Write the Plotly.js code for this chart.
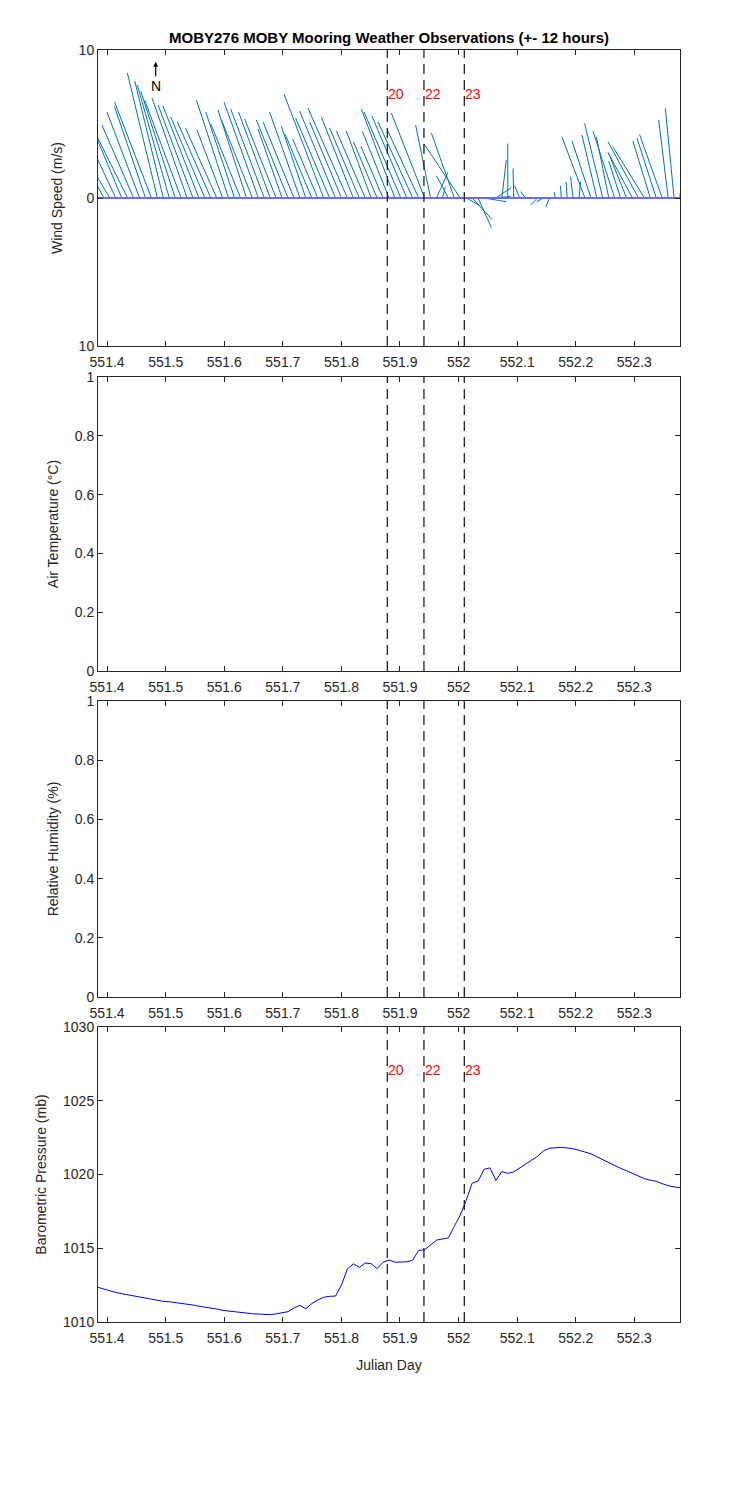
<!DOCTYPE html>
<html><head><meta charset="utf-8">
<script src="https://cdn.plot.ly/plotly-3.0.1.min.js"></script>
<style>body{margin:0;background:#fff}#chart{width:750px;height:1500px}</style>
</head><body><div id="chart"></div>
<script>
// Sample times (Julian day)
const times = [551.3845,551.3946,551.4048,551.4149,551.4251,551.4352,551.4453,551.4555,551.4656,551.4757,
551.4859,551.4960,551.5062,551.5163,551.5264,551.5366,551.5467,551.5568,551.5670,551.5771,
551.5873,551.5974,551.6075,551.6177,551.6278,551.6380,551.6481,551.6582,551.6684,551.6785,
551.6886,551.6988,551.7089,551.7191,551.7292,551.7393,551.7495,551.7596,551.7697,551.7799,
551.7900,551.8002,551.8103,551.8204,551.8306,551.8407,551.8508,551.8610,551.8711,551.8813,
551.8914,551.9015,551.9117,551.9218,551.9320,551.9421,551.9522,551.9624,551.9725,551.9826,
551.9928,552.0029,552.0131,552.0232,552.0333,552.0435,552.0536,552.0637,552.0739,552.0840,
552.0942,552.1043,552.1144,552.1246,552.1347,552.1449,552.1550,552.1651,552.1753,552.1854,
552.1955,552.2057,552.2158,552.2260,552.2361,552.2462,552.2564,552.2665,552.2766,552.2868,
552.2969,552.3071,552.3172,552.3273,552.3375,552.3476,552.3578,552.3679,552.3780];

// Wind components (m/s): east (u) and north (v)
const windU = [-2.5,-1.9,-2.4,-2.35,-2.3,-2.4,-2.14,-2.2,-2.1,-2.49,
-2.03,-1.93,-2.16,-2.33,-2.47,-2.37,-2.36,-2.43,-2.31,-2.26,
-2.12,-1.74,-2.18,-1.95,-2.0,-1.93,-2.1,-2.32,-2.27,-2.14,
-2.13,-1.63,-2.14,-2.09,-2.05,-1.66,-1.8,-1.7,-2.68,-2.30,
-2.43,-2.15,-2.67,-2.16,-2.01,-1.95,-1.68,-1.6,-1.5,-1.8,
-2.27,-2.49,-2.36,-2.35,-2.15,-2.25,-1.01,0.77,0.2,-0.8,
-1.55,-2.45,0.9,1.35,0.9,1.5,1.4,1.04,0.3,0.0,
-0.05,-0.34,-0.34,-0.1,-0.45,-0.45,-0.23,-0.07,-0.05,-0.07,
-0.17,0.1,-1.56,-1.28,-1.01,-1.23,-0.84,-1.47,-0.8,-1.2,
-1.66,-2.06,-2.13,-1.18,-1.31,-1.53,-0.64,-0.59,0.0];
const windV = [4.0,3.5,4.0,5.0,5.5,4.8,4.93,5.8,6.2,6.49,
8.45,7.91,7.64,7.23,6.62,6.76,6.28,6.22,5.47,5.14,
4.73,4.59,6.62,5.81,5.0,5.95,5.3,6.49,6.01,5.81,
5.34,4.66,5.27,5.14,5.81,4.86,4.3,4.0,7.03,5.41,
5.88,5.14,6.08,5.47,4.73,4.53,4.53,3.8,3.5,4.5,
6.01,5.81,5.54,5.14,4.66,5.74,4.93,1.74,0.76,1.5,
4.39,3.65,-0.5,-1.45,-2.0,-0.25,0.1,0.7,2.57,3.69,
2.0,0.83,0.43,0.05,-0.47,-0.25,-0.6,0.4,0.83,1.1,
1.44,1.1,4.14,3.85,4.26,5.05,4.14,4.53,2.5,3.0,
3.09,3.80,3.47,3.85,4.07,4.30,5.27,6.06,0.3];

// Barometric pressure (mb)
const pressure = [1012.35,1012.22,1012.10,1012.00,1011.92,1011.85,1011.77,1011.66,1011.60,1011.55,
1011.47,1011.40,1011.37,1011.32,1011.28,1011.22,1011.15,1011.07,1011.01,1010.97,
1010.88,1010.79,1010.74,1010.72,1010.66,1010.58,1010.56,1010.54,1010.52,1010.50,
1010.55,1010.60,1010.70,1010.95,1011.13,1010.90,1011.25,1011.48,1011.68,1011.74,
1011.76,1012.51,1013.60,1013.95,1013.70,1014.00,1013.95,1013.62,1014.05,1014.20,
1014.05,1014.07,1014.08,1014.20,1014.85,1014.90,1015.20,1015.55,1015.63,1015.70,
1016.50,1017.25,1018.25,1019.42,1019.55,1020.35,1020.45,1019.60,1020.20,1020.08,
1020.18,1020.46,1020.70,1020.97,1021.23,1021.60,1021.78,1021.81,1021.84,1021.80,
1021.75,1021.64,1021.53,1021.40,1021.20,1021.00,1020.78,1020.58,1020.42,1020.25,
1020.07,1019.90,1019.72,1019.61,1019.54,1019.38,1019.24,1019.16,1019.10];

// Event markers
const eventTimes = [551.8784, 551.9409, 552.0098];
const eventLabels = ['20', '22', '23'];

// Tick labels
const xTickVals = [551.4,551.5,551.6,551.7,551.8,551.9,552.0,552.1,552.2,552.3];
const xTickText = ['551.4','551.5','551.6','551.7','551.8','551.9','552','552.1','552.2','552.3'];
const windTickVals = [-10, 0, 10];
const windTickText = ['10', '0', '10'];

const titleText = 'MOBY276 MOBY Mooring Weather Observations (+- 12 hours)';
const yTitles = ['Wind Speed (m/s)', 'Air Temperature (°C)', 'Relative Humidity (%)', 'Barometric Pressure (mb)'];

// ---- drawing ----
const FONT = 'Liberation Sans, Arial, Helvetica, sans-serif';
const AX = '#262626';
const stickScale = 14.8 / 585.9; // days per m/s so that sticks are drawn isotropically

const sx = [], sy = [];
for (let i = 0; i < times.length; i++) {
  sx.push(times[i], times[i] + windU[i] * stickScale, null);
  sy.push(0, windV[i], null);
}
const xRange = [times[0], times[times.length - 1]];

const traces = [
  {x: sx, y: sy, mode: 'lines', line: {color: '#0072BD', width: 1}, xaxis: 'x', yaxis: 'y', hoverinfo: 'skip'},
  {x: xRange, y: [0, 0], mode: 'lines', line: {color: '#6a6aff', width: 1.8}, xaxis: 'x', yaxis: 'y', hoverinfo: 'skip'},
  {x: [], y: [], xaxis: 'x2', yaxis: 'y2'},
  {x: [], y: [], xaxis: 'x3', yaxis: 'y3'},
  {x: times, y: pressure, mode: 'lines', line: {color: '#0000FF', width: 1}, xaxis: 'x4', yaxis: 'y4'}
];

const domains = [[1 - 346/1500, 1 - 50/1500], [1 - 671/1500, 1 - 377/1500], [1 - 997/1500, 1 - 701/1500], [1 - 1322/1500, 1 - 1027/1500]];
const yRanges = [[-10, 10], [0, 1], [0, 1], [1010, 1030]];
const yStandoffs = [12, 12, 12, 13];

const layout = {
  width: 750, height: 1500,
  margin: {l: 98, r: 70, t: 0, b: 0},
  paper_bgcolor: '#fff', plot_bgcolor: '#fff',
  showlegend: false,
  font: {family: FONT, size: 14, color: AX},
  title: {text: '<b>' + titleText + '</b>', x: 389/750, xanchor: 'center', y: 1 - 38/1500, yanchor: 'middle',
          font: {family: FONT, size: 15, color: '#000'}},
  shapes: [], annotations: []
};

for (let p = 0; p < 4; p++) {
  const s = p === 0 ? '' : String(p + 1);
  const xa = {
    domain: [0, 1], anchor: 'y' + s, range: xRange, tickvals: xTickVals, ticktext: xTickText,
    ticks: 'inside', ticklen: 5, tickcolor: AX, showline: true, linecolor: AX, linewidth: 1, mirror: 'ticks',
    showgrid: false, zeroline: false, automargin: false, tickfont: {size: 14, color: AX},
    ticklabelstandoff: 3
  };
  if (p === 3) xa.title = {text: 'Julian Day', font: {size: 14, color: AX}, standoff: 15};
  const ya = {
    domain: domains[p], anchor: 'x' + s, range: yRanges[p],
    ticks: 'inside', ticklen: 5, tickcolor: AX, showline: true, linecolor: AX, linewidth: 1, mirror: 'ticks',
    showgrid: false, zeroline: false, automargin: false, tickfont: {size: 14, color: AX},
    title: {text: yTitles[p], font: {size: 14, color: AX}, standoff: yStandoffs[p]}
  };
  if (p === 0) { ya.tickvals = windTickVals; ya.ticktext = windTickText; }
  else if (p === 3) { ya.dtick = 5; ya.tick0 = 1010; }
  else { ya.dtick = 0.2; ya.tick0 = 0; }
  layout['xaxis' + s] = xa;
  layout['yaxis' + s] = ya;

  eventTimes.forEach(t => {
    layout.shapes.push({type: 'line', xref: 'x' + s, yref: 'y' + s + ' domain', x0: t, x1: t, y0: 0, y1: 1,
      line: {color: '#222', width: 1.3, dash: '10px,6px'}, layer: 'above'});
  });
}

// red event labels in wind and pressure panels
eventTimes.forEach((t, i) => {
  layout.annotations.push({x: t, y: 7, xref: 'x', yref: 'y', text: eventLabels[i], showarrow: false,
    xanchor: 'left', yanchor: 'middle', xshift: -1, font: {color: '#FF0000', size: 14}});
  layout.annotations.push({x: t, y: 1027.1, xref: 'x4', yref: 'y4', text: eventLabels[i], showarrow: false,
    xanchor: 'left', yanchor: 'middle', xshift: -1, font: {color: '#FF0000', size: 14}});
});
// North arrow
layout.annotations.push({x: 551.483, y: 9.2, xref: 'x', yref: 'y', text: 'N', showarrow: true,
  ax: 0, ay: 24, arrowhead: 2, arrowsize: 0.8, arrowwidth: 1.2, arrowcolor: '#000', standoff: 0,
  font: {color: '#000', size: 14}});

Plotly.newPlot('chart', traces, layout, {staticPlot: true, displayModeBar: false});
</script></body></html>
